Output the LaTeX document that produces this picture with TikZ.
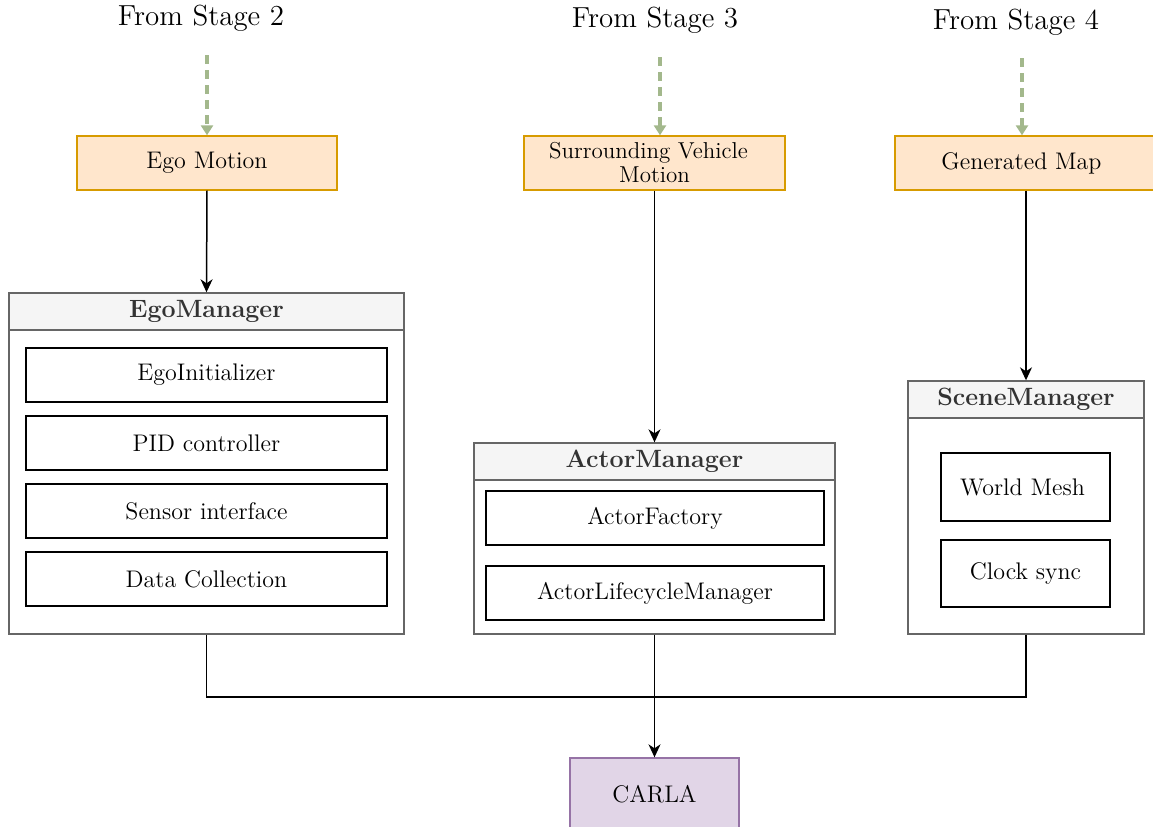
\documentclass[tikz,border=0pt]{standalone}
\usetikzlibrary{arrows.meta}
\definecolor{orfill}{HTML}{FFE6CC}
\definecolor{ordraw}{HTML}{D79B00}
\definecolor{hdfill}{HTML}{F5F5F5}
\definecolor{hddraw}{HTML}{666666}
\definecolor{hdtext}{HTML}{333333}
\definecolor{pufill}{HTML}{E1D5E7}
\definecolor{pudraw}{HTML}{9673A6}
\definecolor{grarrow}{RGB}{163,184,140}
\tikzset{
  every node/.style={font=\fontsize{12}{13}\selectfont, inner sep=0pt},
  stagelbl/.style={font=\fontsize{14.5}{16}\selectfont},
  inbox/.style={draw, fill=orfill, line width=0.7pt, draw=ordraw, align=center, minimum height=27pt},
  mgrbox/.style={draw=hddraw, fill=white, line width=0.7pt},
  mgrhead/.style={draw=hddraw, fill=hdfill, line width=0.7pt, minimum height=18.5pt, text=hdtext, font=\fontsize{12.5}{13}\selectfont\bfseries},
  subbox/.style={draw=black, fill=white, line width=0.7pt},
  carlabox/.style={draw=pudraw, fill=pufill, line width=0.7pt},
  arr/.style={-{Stealth[length=6.5pt,width=6pt,inset=2pt]}, line width=0.75pt},
  garr/.style={-{Triangle[length=5pt,width=6pt]}, grarrow, line width=1.6pt, dash pattern=on 4.5pt off 3pt},
  conn/.style={line width=0.75pt}
}
\begin{document}
\begin{tikzpicture}[x=0.5pt,y=-0.5pt]
\useasboundingbox (0,0) rectangle (1153,826);
\clip (0,0) rectangle (1153,826);
% stage labels
\node[stagelbl] (s2) at (201,18) {From Stage 2};
\node[stagelbl] (s3) at (655,20) {From Stage 3};
\node[stagelbl] (s4) at (1016,22) {From Stage 4};
% input boxes
\node[inbox, minimum width=130pt] (ego) at (207,163) {Ego Motion};
\node[inbox, minimum width=130.5pt, font=\fontsize{11.5}{12}\selectfont] (surr) at (654.5,163) {\hspace*{-6pt}Surrounding Vehicle\\Motion};
\node[inbox, minimum width=132.5pt] (gmap) at (1027.5,163) {\hspace*{-6pt}Generated Map};
% dashed inputs
\coordinate (s2a) at (207,55);
\coordinate (s3a) at (660,57);
\coordinate (s4a) at (1022,58);
\draw[garr] (s2a) -- (s2a |- ego.north);
\draw[garr] (s3a) -- (s3a |- surr.north);
\draw[garr] (s4a) -- (s4a |- gmap.north);
% EgoManager
\node[mgrbox, minimum width=197.5pt, minimum height=170.5pt] (egom) at (206.5,463.5) {};
\node[mgrhead, minimum width=197.5pt] (egoh) at (206.5,311.5) {EgoManager};
\node[subbox, minimum width=180.5pt, minimum height=27pt] (e1) at (206.5,375) {EgoInitializer};
\node[subbox, minimum width=180.5pt, minimum height=27pt] (e2) at (206.5,443) {PID controller};
\node[subbox, minimum width=180.5pt, minimum height=27pt] (e3) at (206.5,511) {Sensor interface};
\node[subbox, minimum width=180.5pt, minimum height=27pt] (e4) at (206.5,579) {Data Collection};
% ActorManager
\node[mgrbox, minimum width=180.5pt, minimum height=95.5pt] (actm) at (654.5,538.5) {};
\node[mgrhead, minimum width=180.5pt] (acth) at (654.5,461.5) {ActorManager};
\node[subbox, minimum width=169pt, minimum height=27pt] (a1) at (655,518) {ActorFactory};
\node[subbox, minimum width=169pt, minimum height=27pt] (a2) at (655,593) {ActorLifecycleManager};
% SceneManager
\node[mgrbox, minimum width=118pt, minimum height=126.5pt] (scm) at (1026,507.5) {};
\node[mgrhead, minimum width=118pt] (sch) at (1026,399.5) {SceneManager};
\node[subbox, minimum width=84.5pt, minimum height=34pt] (w1) at (1025.5,487) {\hspace*{-3pt}World Mesh};
\node[subbox, minimum width=84.5pt, minimum height=33.5pt] (w2) at (1025.5,573.5) {Clock sync};
% CARLA
\node[carlabox, minimum width=84.5pt, minimum height=36pt] (carla) at (654.5,794) {CARLA};
% arrows
\draw[arr] (ego.south) -- (egom.north);
\draw[arr] (surr.south) -- (actm.north);
\draw[arr] (gmap.south -| scm.north) -- (scm.north);
\coordinate (j) at (654.5,697);
\draw[conn] (egom.south) |- (j);
\draw[conn] (scm.south) |- (j);
\draw[arr] (actm.south) -- (carla.north);
\end{tikzpicture}
\end{document}
